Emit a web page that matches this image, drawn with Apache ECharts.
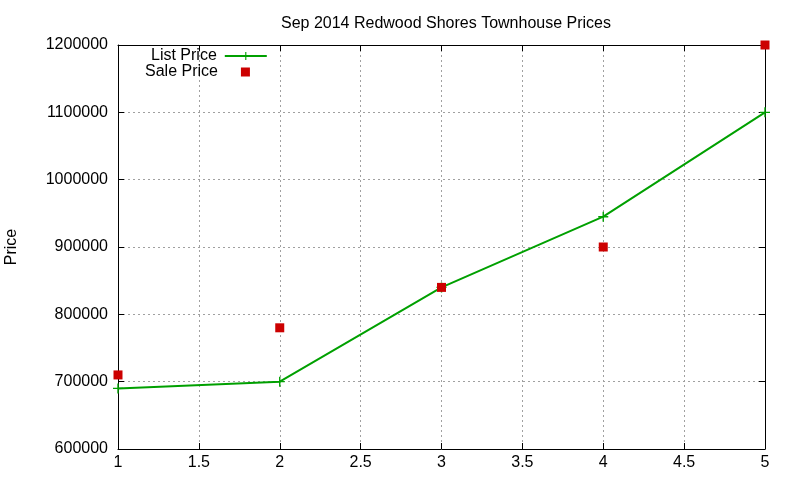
<!DOCTYPE html>
<html lang="en">
  <head>
    <meta charset="UTF-8" />
    <title>Sep 2014 Redwood Shores Townhouse Prices</title>
    <script src="https://cdn.jsdelivr.net/npm/echarts@6/dist/echarts.min.js"></script>
    <style>
      html, body { margin: 0; padding: 0; background: #fff; }
      #main { width: 800px; height: 480px; }
    </style>
  </head>
  <body>
    <div id="main"></div>

    <script>
      const xs = [1, 2, 3, 4, 5];
      const listPrice = [690000, 700000, 840000, 945000, 1100000];
      const salePrice = [710000, 780000, 840000, 900000, 1200000];

      const font = 'Liberation Sans, Arial, sans-serif';
      const plus = 'path://M4.3,0H5.7V4.3H10V5.7H5.7V10H4.3V5.7H0V4.3H4.3Z';
      const green = '#00a000';
      const red = '#cc0000';

      const pairs = (vals) => xs.map((x, i) => [x, vals[i]]);

      const mirrorAxis = {
        axisLine: { show: true, lineStyle: { color: '#000', width: 1 } },
        axisTick: { show: true, inside: true, length: 6, lineStyle: { color: '#000' } },
        axisLabel: { show: false },
        splitLine: { show: false }
      };
      const gridLine = { show: true, lineStyle: { color: '#a0a0a0', type: [2, 3], width: 1 } };

      const options = {
        animation: false,
        title: {
          text: 'Sep 2014 Redwood Shores Townhouse Prices',
          left: 441,
          top: 11,
          textAlign: 'center',
          textStyle: { fontFamily: font, fontSize: 16, fontWeight: 'normal', color: '#000' }
        },
        grid: { left: 118, right: 35, top: 45, bottom: 31, outerBoundsMode: 'none', containLabel: false },
        legend: [
          {
            left: 146,
            top: 43,
            align: 'right',
            itemWidth: 42,
            itemHeight: 10,
            textStyle: { fontFamily: font, fontSize: 16, color: '#000', padding: [0, 3, 0, 0] },
            data: ['List Price']
          },
          {
            left: 140,
            top: 59,
            align: 'right',
            itemWidth: 9,
            itemHeight: 9,
            textStyle: { fontFamily: font, fontSize: 16, color: '#000', padding: [0, 18, 0, 0] },
            data: [{ name: 'Sale Price', icon: 'rect' }]
          }
        ],
        xAxis: [
          {
            type: 'value',
            min: 1,
            max: 5,
            interval: 0.5,
            axisLine: { show: true, lineStyle: { color: '#000', width: 1 } },
            axisTick: { show: true, inside: true, length: 6, lineStyle: { color: '#000' } },
            axisLabel: { fontFamily: font, fontSize: 16, color: '#000', margin: 6 },
            splitLine: gridLine
          },
          Object.assign({ type: 'value', min: 1, max: 5, interval: 0.5, position: 'top' }, mirrorAxis)
        ],
        yAxis: [
          {
            type: 'value',
            min: 600000,
            max: 1200000,
            interval: 100000,
            name: 'Price',
            nameLocation: 'middle',
            nameGap: 98,
            nameRotate: 90,
            nameTextStyle: { fontFamily: font, fontSize: 16, color: '#000' },
            axisLine: { show: true, lineStyle: { color: '#000', width: 1 } },
            axisTick: { show: true, inside: true, length: 6, lineStyle: { color: '#000' } },
            axisLabel: { fontFamily: font, fontSize: 16, color: '#000', margin: 10, formatter: (v) => String(v) },
            splitLine: gridLine
          },
          Object.assign({ type: 'value', min: 600000, max: 1200000, interval: 100000, position: 'right' }, mirrorAxis)
        ],
        series: [
          {
            name: 'List Price',
            type: 'line',
            data: pairs(listPrice),
            symbol: plus,
            symbolSize: 10,
            showAllSymbol: true,
            lineStyle: { color: green, width: 2 },
            itemStyle: { color: green },
            z: 3
          },
          {
            name: 'Sale Price',
            type: 'scatter',
            data: pairs(salePrice),
            symbol: 'rect',
            symbolSize: 9,
            itemStyle: { color: red, opacity: 1 },
            z: 4
          }
        ]
      };

      var myChart = echarts.init(document.getElementById('main'));
      myChart.setOption(options);
    </script>
  </body>
</html>
